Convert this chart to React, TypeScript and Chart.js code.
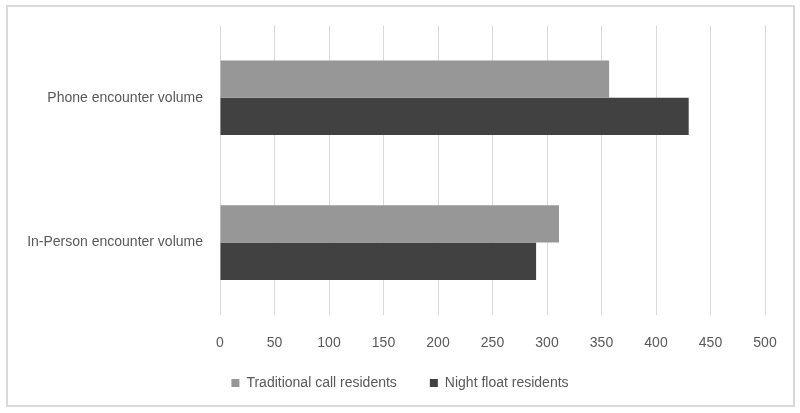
import React, { useEffect, useRef } from "react";
import { Chart, registerables } from "chart.js";

Chart.register(...registerables);

const categories = ["Phone encounter volume", "In-Person encounter volume"];
const seriesNames = ["Traditional call residents", "Night float residents"];
const traditionalValues = [357, 311];
const nightFloatValues = [430, 290];
const xMin = 0;
const xMax = 500;
const xStep = 50;

const FONT = "'Liberation Sans', Arial, sans-serif";
const TEXT = "#595959";

const legendShift = {
  id: "legendShift",
  afterLayout(chart: any) {
    const lg = chart.legend;
    if (lg) {
      lg.top -= 13;
      lg.bottom -= 13;
    }
  },
};

export default function App() {
  const ref = useRef<HTMLCanvasElement | null>(null);

  useEffect(() => {
    if (!ref.current) return;
    const chart = new Chart(ref.current, {
      type: "bar",
      data: {
        labels: categories,
        datasets: [
          {
            label: seriesNames[0],
            data: traditionalValues,
            backgroundColor: "#979797",
            borderWidth: 0,
            barPercentage: 1,
            categoryPercentage: 0.515,
          },
          {
            label: seriesNames[1],
            data: nightFloatValues,
            backgroundColor: "#414141",
            borderWidth: 0,
            barPercentage: 1,
            categoryPercentage: 0.515,
          },
        ],
      },
      plugins: [legendShift],
      options: {
        indexAxis: "y",
        animation: false,
        responsive: false,
        devicePixelRatio: 1,
        layout: { padding: { top: 24, left: 0, right: 0, bottom: 0 } },
        plugins: {
          tooltip: { enabled: false },
          legend: {
            position: "bottom",
            labels: {
              boxWidth: 8,
              boxHeight: 8,
              padding: 33,
              color: TEXT,
              font: { family: FONT, size: 14 },
            },
          },
        },
        scales: {
          x: {
            min: xMin,
            max: xMax,
            border: { display: false },
            grid: { color: "#d9d9d9", lineWidth: 1, drawTicks: false },
            ticks: {
              stepSize: xStep,
              padding: 20,
              color: TEXT,
              font: { family: FONT, size: 14 },
            },
            afterFit: (scale: any) => {
              scale.height = 41;
              scale.paddingRight = 35;
            },
          },
          y: {
            border: { display: false },
            grid: { display: false, drawTicks: false },
            ticks: {
              padding: 17,
              color: TEXT,
              font: { family: FONT, size: 14 },
            },
            afterFit: (scale: any) => {
              scale.width = 220;
            },
          },
        },
      },
    });
    return () => chart.destroy();
  }, []);

  return (
    <div style={{ position: "absolute", left: 0, top: 0, width: 800, height: 413, background: "#fff" }}>
      <canvas ref={ref} width={800} height={413} style={{ position: "absolute", left: 0, top: 0 }} />
      <div
        style={{
          position: "absolute",
          left: 6,
          top: 5,
          width: 789,
          height: 402,
          border: "2px solid #d9d9d9",
          boxSizing: "border-box",
          pointerEvents: "none",
        }}
      />
    </div>
  );
}
